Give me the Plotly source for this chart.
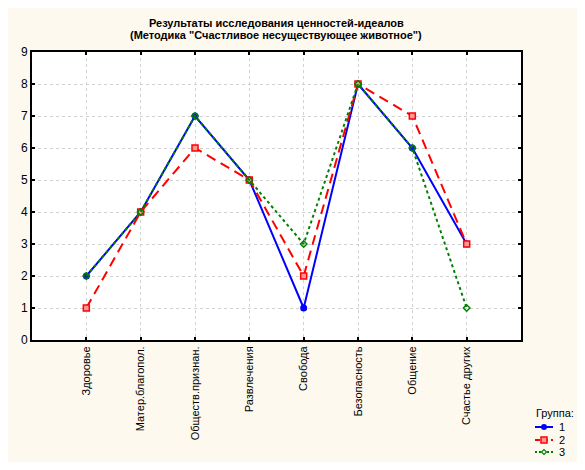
import plotly.graph_objects as go

categories = ["Здоровье", "Матер.благопол.", "Обществ.признан.", "Развлечения",
              "Свобода", "Безопасность", "Общение", "Счастье других"]
group1 = [2, 4, 7, 5, 1, 8, 6, 3]
group2 = [1, 4, 6, 5, 2, 8, 7, 3]
group3 = [2, 4, 7, 5, 3, 8, 6, 1]
group_names = ["1", "2", "3"]
legend_title = "Группа:"
title_lines = ["Результаты исследования ценностей-идеалов",
               "(Методика \"Счастливое несуществующее животное\")"]
y_ticks = [0, 1, 2, 3, 4, 5, 6, 7, 8, 9]

FONT = "Liberation Sans, Arial, sans-serif"
x_idx = list(range(len(categories)))

styles = [
    dict(color="#0000FF", dash="solid", symbol="circle", msize=7, mfill="#0000FF", mlw=0),
    dict(color="#FF0000", dash="10px,6px", symbol="square", msize=6, mfill="#FF9999", mlw=1.5),
    dict(color="#008000", dash="3px,3px", symbol="diamond-open", msize=5, mfill="#008000", mlw=1.5),
]

fig = go.Figure()
for name, vals, st in zip(group_names, [group1, group2, group3], styles):
    fig.add_trace(go.Scatter(x=x_idx, y=vals, name=name, mode="lines+markers",
                             line=dict(color=st["color"], width=2, dash=st["dash"]),
                             marker=dict(symbol=st["symbol"], size=st["msize"], color=st["mfill"],
                                         line=dict(color=st["color"], width=st["mlw"])),
                             showlegend=False))

# page body has an 8px margin; figure occupies 8..577 x 8..462 of the window
OFF = 8
W, H = 585 - 2 * OFF, 470 - 2 * OFF
# plot area in window pixels: x 32..521, y 52..340
L, R, T, B = 32 - OFF, W - (521 - OFF), 52 - OFF, H - (340 - OFF)
pw, ph = W - L - R, H - T - B

def px_x(px):
    return (px - OFF - L) / pw

def px_y(py):
    return (H - B - (py - OFF)) / ph

annotations = []
# title (two bold lines)
for line, yy in zip(title_lines, [23, 35]):
    annotations.append(dict(text="<b>" + line + "</b>", xref="paper", yref="paper",
                            x=px_x(276), y=px_y(yy), xanchor="center", yanchor="middle",
                            showarrow=False, font=dict(family=FONT, size=11, color="black")))

# custom compact legend
annotations.append(dict(text=legend_title, xref="paper", yref="paper", x=px_x(534), y=px_y(413),
                        xanchor="left", yanchor="middle", showarrow=False,
                        font=dict(family=FONT, size=11, color="black")))
item_y = [427, 440, 452]
for name, st, yy in zip(group_names, styles, item_y):
    fig.add_shape(type="line", xref="paper", yref="paper",
                  x0=px_x(535), x1=px_x(553), y0=px_y(yy), y1=px_y(yy),
                  line=dict(color=st["color"], width=2,
                            dash="solid" if st["dash"] == "solid" else ("5px,3px" if name == "2" else "2px,2px")))
    cx, r = 544, 3
    if st["symbol"] == "circle":
        fig.add_shape(type="circle", xref="paper", yref="paper",
                      x0=px_x(cx - r), x1=px_x(cx + r), y0=px_y(yy + r), y1=px_y(yy - r),
                      fillcolor=st["color"], line=dict(color=st["color"], width=0))
    elif st["symbol"] == "square":
        fig.add_shape(type="rect", xref="paper", yref="paper",
                      x0=px_x(cx - r), x1=px_x(cx + r), y0=px_y(yy + r), y1=px_y(yy - r),
                      fillcolor=st["mfill"], line=dict(color=st["color"], width=1.5))
    else:
        path = "M {} {} L {} {} L {} {} L {} {} Z".format(
            px_x(cx - 2.5), px_y(yy), px_x(cx), px_y(yy - 2.5),
            px_x(cx + 2.5), px_y(yy), px_x(cx), px_y(yy + 2.5))
        fig.add_shape(type="path", xref="paper", yref="paper", path=path,
                      fillcolor="white", line=dict(color=st["color"], width=1.2))
    annotations.append(dict(text=name, xref="paper", yref="paper", x=px_x(557), y=px_y(yy),
                            xanchor="left", yanchor="middle", showarrow=False,
                            font=dict(family=FONT, size=11, color="black")))

fig.update_layout(
    width=W, height=H,
    margin=dict(l=L, r=R, t=T, b=B, autoexpand=False),
    paper_bgcolor="#FDF9EE",
    plot_bgcolor="white",
    font=dict(family=FONT, size=11, color="black"),
    xaxis=dict(range=[-1, len(categories)], tickmode="array", tickvals=x_idx,
               ticktext=categories, tickangle=-90, showgrid=True,
               gridcolor="#D2D2D2", griddash="dot", gridwidth=1,
               showline=True, linecolor="black", linewidth=2, mirror="ticks",
               ticks="inside", ticklen=3, tickwidth=2, tickcolor="black",
               zeroline=False, tickfont=dict(size=11)),
    yaxis=dict(range=[0, 9], tickmode="array", tickvals=y_ticks,
               showgrid=True, gridcolor="#D2D2D2", griddash="dot", gridwidth=1,
               showline=True, linecolor="black", linewidth=2, mirror="ticks",
               ticks="inside", ticklen=3, tickwidth=2, tickcolor="black",
               zeroline=False, tickfont=dict(size=12)),
    showlegend=False,
    annotations=annotations,
)

fig.write_html("out.html")
